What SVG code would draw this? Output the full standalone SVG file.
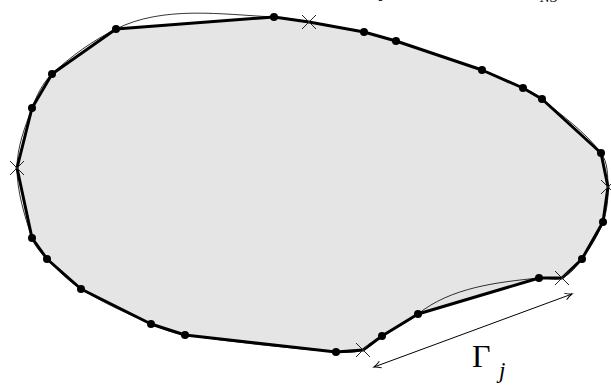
<svg xmlns="http://www.w3.org/2000/svg" width="611" height="385" viewBox="0 0 611 385">
<style>
.fill{fill:#e5e5e5;stroke:none}
.curve{fill:none;stroke:#000;stroke-width:0.8}
.poly{fill:none;stroke:#000;stroke-width:3;stroke-linejoin:round}
.dot{fill:#000}
.cross{stroke:#222;stroke-width:1;fill:none}
.dim{stroke:#000;stroke-width:1;fill:none}
.lbl{font-family:'Liberation Serif','DejaVu Serif',serif;fill:#000}
</style>
<defs>
<marker id="tip" viewBox="-8 -5 10 10" markerWidth="10" markerHeight="10" refX="0" refY="0" orient="auto-start-reverse" markerUnits="userSpaceOnUse">
<path d="M -7 -3.5 Q -3 -0.8 0 0 Q -3 0.8 -7 3.5" fill="none" stroke="#000" stroke-width="1"/>
</marker>
</defs>
<g id="domain">
<polygon class="fill" points="116,29 274,17 309,22 364,32 396,41 482,70 523,88 542,99 601,153 608,187 603,222 582,259 562,278 539,278 418,314 382,336 363,350 336,352 185,335 151,324 81,289 47,259 32,238 17,168 32,108 52,74"/>
<path class="curve" d="M116,29 C163.2,5.4 221.3,14.4 274,17 C285.8,17.6 297.4,20.1 309,22 C327.3,25.1 345.8,28 364,32 C374.8,34.4 385.4,37.6 396,41 C424.8,50.3 453.6,59.5 482,70 C496,75.2 509.6,81.5 523,88 C529.6,91.2 536.4,94.3 542,99 C562.5,116.1 585,131.6 601,153 C608,162.3 607.7,175.4 608,187 C608.3,198.8 607,210.9 603,222 C598.2,235.3 590.4,247.5 582,259 C576.6,266.4 570.4,274.3 562,278 C555,281.1 546.7,277.2 539,278 C497.2,282.2 450.8,287.5 418,314 C407,322.9 393.8,328.3 382,336 C375.4,340.3 370.5,347.4 363,350 C354.5,353 345,352.8 336,352 C285.5,347.7 235.1,342.6 185,335 C173.2,333.2 161.9,328.8 151,324 C127.1,313.4 103.1,302.8 81,289 C68.2,281 57.5,269.9 47,259 C41,252.8 34.7,246.2 32,238 C24.5,215.3 17,191.9 17,168 C17,147.4 24.8,127.3 32,108 C36.6,95.7 42.5,83 52,74 C71,56.1 92.7,40.7 116,29 Z"/>
<polygon class="poly" points="116,29 274,17 309,22 364,32 396,41 482,70 523,88 542,99 601,153 608,187 603,222 582,259 562,278 539,278 418,314 382,336 363,350 336,352 185,335 151,324 81,289 47,259 32,238 17,168 32,108 52,74"/>
</g>
<g id="nodes">
<g id="dots">
<circle class="dot" cx="116" cy="29" r="4"/>
<circle class="dot" cx="274" cy="17" r="4"/>
<circle class="dot" cx="364" cy="32" r="4"/>
<circle class="dot" cx="396" cy="41" r="4"/>
<circle class="dot" cx="482" cy="70" r="4"/>
<circle class="dot" cx="523" cy="88" r="4"/>
<circle class="dot" cx="542" cy="99" r="4"/>
<circle class="dot" cx="601" cy="153" r="4"/>
<circle class="dot" cx="603" cy="222" r="4"/>
<circle class="dot" cx="582" cy="259" r="4"/>
<circle class="dot" cx="539" cy="278" r="4"/>
<circle class="dot" cx="418" cy="314" r="4"/>
<circle class="dot" cx="382" cy="336" r="4"/>
<circle class="dot" cx="336" cy="352" r="4"/>
<circle class="dot" cx="185" cy="335" r="4"/>
<circle class="dot" cx="151" cy="324" r="4"/>
<circle class="dot" cx="81" cy="289" r="4"/>
<circle class="dot" cx="47" cy="259" r="4"/>
<circle class="dot" cx="32" cy="238" r="4"/>
<circle class="dot" cx="32" cy="108" r="4"/>
<circle class="dot" cx="52" cy="74" r="4"/>
</g>
<g id="crosses">
<path class="cross" d="M302,15 L316,29 M316,15 L302,29"/>
<path class="cross" d="M10,161 L24,175 M24,161 L10,175"/>
<path class="cross" d="M601,180 L615,194 M615,180 L601,194"/>
<path class="cross" d="M555,271 L569,285 M569,271 L555,285"/>
<path class="cross" d="M356,343 L370,357 M370,343 L356,357"/>
</g>
</g>
<g id="connectors">
<line class="dim" x1="374" y1="367" x2="572" y2="294" marker-start="url(#tip)" marker-end="url(#tip)"/>
</g>
<g id="labels">
<text class="lbl" x="472" y="367" font-size="32">Γ</text>
<text class="lbl" x="499" y="378" font-size="23" font-style="italic">j</text>
<text class="lbl" x="381" y="-4" font-size="22" font-style="italic">j</text>
<text class="lbl" x="540" y="2" font-size="15" font-style="italic">NS</text>
</g>
</svg>
